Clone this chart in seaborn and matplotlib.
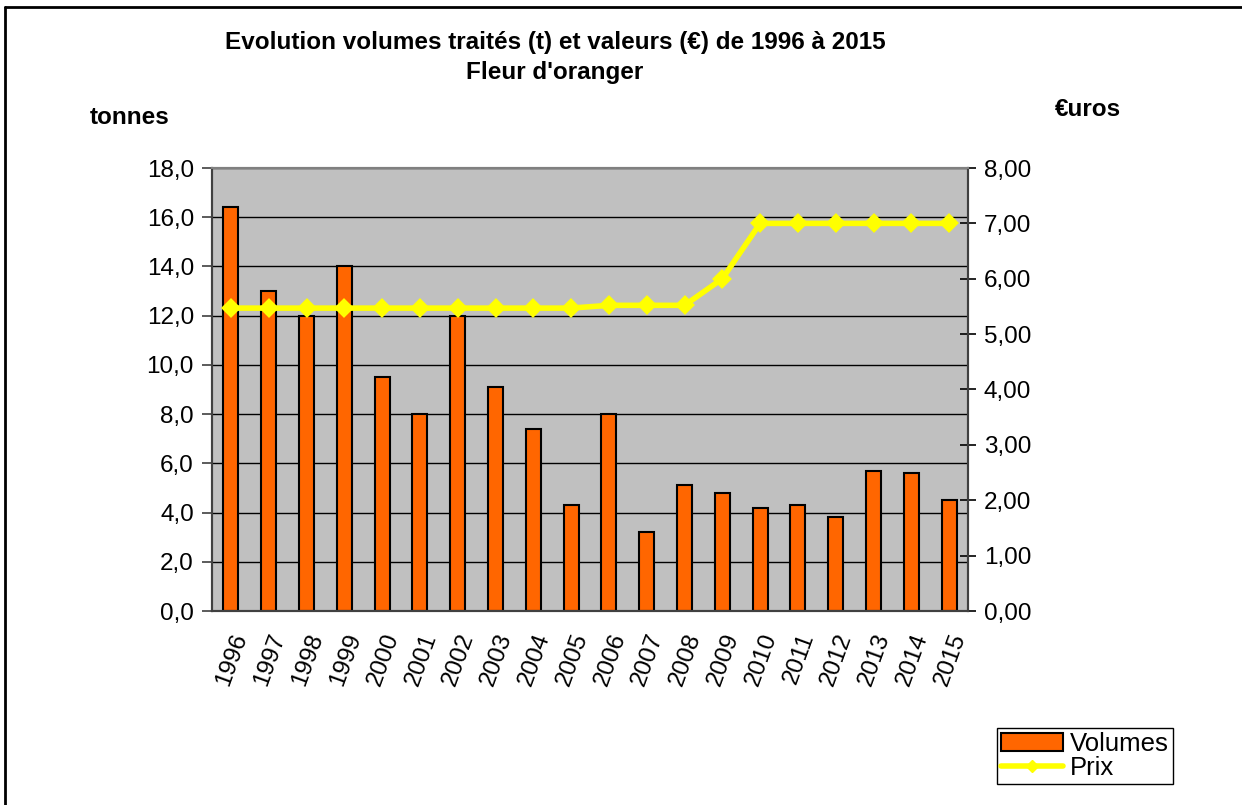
"""
Fleur d'oranger : volumes traités (t) et prix (€) de 1996 à 2015
"""

import matplotlib
matplotlib.use('Agg')
import matplotlib.pyplot as plt
import seaborn as sns
import pandas as pd
from matplotlib.patches import Patch
from matplotlib.lines import Line2D

sns.set_style('white')
plt.rcParams['font.family'] = ['Liberation Sans', 'DejaVu Sans']
plt.rcParams['text.color'] = 'black'
plt.rcParams['xtick.color'] = 'black'
plt.rcParams['ytick.color'] = 'black'
plt.rcParams['axes.labelcolor'] = 'black'

# données
annees = ['1996', '1997', '1998', '1999', '2000', '2001', '2002', '2003', '2004', '2005',
          '2006', '2007', '2008', '2009', '2010', '2011', '2012', '2013', '2014', '2015']
volumes = [16.4, 13.0, 12.0, 14.0, 9.5, 8.0, 12.0, 9.1, 7.4, 4.3,
           8.0, 3.2, 5.1, 4.8, 4.2, 4.3, 3.8, 5.7, 5.6, 4.5]
prix = [5.47, 5.47, 5.47, 5.47, 5.47, 5.47, 5.47, 5.47, 5.47, 5.47,
        5.52, 5.52, 5.52, 6.00, 7.00, 7.00, 7.00, 7.00, 7.00, 7.00]
ticks_tonnes = [0, 2, 4, 6, 8, 10, 12, 14, 16, 18]
ticks_euros = [0, 1, 2, 3, 4, 5, 6, 7, 8]

df = pd.DataFrame({'annee': annees, 'volumes': volumes, 'prix': prix})

W, H = 1242, 805
fig = plt.figure(figsize=(W / 100, H / 100), dpi=100)
ax = fig.add_axes([212 / W, 1 - 611 / H, (968 - 212) / W, (611 - 168) / H])
ax.set_facecolor('#C0C0C0')

# barres des volumes
sns.barplot(data=df, x='annee', y='volumes', ax=ax, color='#FF6600',
            edgecolor='black', linewidth=1.5, width=0.4, saturation=1)
ax.set_ylim(0, 18)
ax.set_yticks(ticks_tonnes)
ax.set_yticklabels([f'{v:.1f}'.replace('.', ',') for v in ticks_tonnes], fontsize=17.5)
ax.yaxis.grid(True, color='black', linewidth=1)
ax.set_axisbelow(True)
ax.set_xlabel('')
ax.set_ylabel('')

# courbe des prix
ax2 = ax.twinx()
sns.pointplot(data=df, x='annee', y='prix', ax=ax2, color='#FFFF00',
              markers='D', markersize=7, linewidth=4)
ax2.set_ylim(0, 8)
ax2.set_yticks(ticks_euros)
ax2.set_yticklabels([f'{v:.2f}'.replace('.', ',') for v in ticks_euros], fontsize=17.5)
ax2.set_ylabel('')
ax2.set_xlabel('')
ax2.tick_params(axis='y', direction='inout', length=11, width=1.2, color='black', pad=6)

ax.set_xlim(-0.5, len(annees) - 0.5)
ax.set_xticks(range(len(annees)))
ax.set_xticklabels(annees, rotation=70, ha='right', va='top',
                   rotation_mode='anchor', fontsize=17.5)
ax.set_xticks([i - 0.5 for i in range(len(annees) + 1)], minor=True)
ax.tick_params(axis='x', which='major', length=0, pad=14)
ax.tick_params(axis='x', which='minor', direction='inout', length=14, width=1.2, color='#404040')
ax.tick_params(axis='y', direction='out', length=7, width=1.2, color='#404040', pad=6)

for a in (ax, ax2):
    for side in ['left', 'right', 'bottom']:
        a.spines[side].set_color('#404040')
        a.spines[side].set_linewidth(1.5)
    a.spines['top'].set_color('#808080')
    a.spines['top'].set_linewidth(1.5)

# titres
fig.text(555 / W, 1 - 42 / H, 'Evolution volumes traités (t) et valeurs (€) de 1996 à 2015',
         ha='center', va='center', fontsize=17.5, fontweight='bold')
fig.text(555 / W, 1 - 72 / H, "Fleur d'oranger",
         ha='center', va='center', fontsize=17.5, fontweight='bold')
fig.text(130 / W, 1 - 117 / H, 'tonnes', ha='center', va='center', fontsize=17.5, fontweight='bold')
fig.text(1088 / W, 1 - 110 / H, '€uros', ha='center', va='center', fontsize=17.5, fontweight='bold')

# légende
handles = [Patch(facecolor='#FF6600', edgecolor='black', linewidth=1.5),
           Line2D([], [], color='#FFFF00', linewidth=4, marker='D', markersize=6)]
leg = fig.legend(handles, ['Volumes', 'Prix'], loc='upper left',
                 bbox_to_anchor=(997 / W, 1 - 728 / H), fontsize=18.5,
                 frameon=True, fancybox=False, edgecolor='black', framealpha=1,
                 borderpad=0.15, labelspacing=0.0, handlelength=2.4,
                 handletextpad=0.3, borderaxespad=0)
leg.get_frame().set_linewidth(1)

# cadre extérieur
fig.add_artist(Line2D([5 / W, 5 / W], [0, 1 - 7 / H], color='black', linewidth=2))
fig.add_artist(Line2D([5 / W, 1], [1 - 7 / H, 1 - 7 / H], color='black', linewidth=2))

plt.savefig('out.png', dpi=100)
